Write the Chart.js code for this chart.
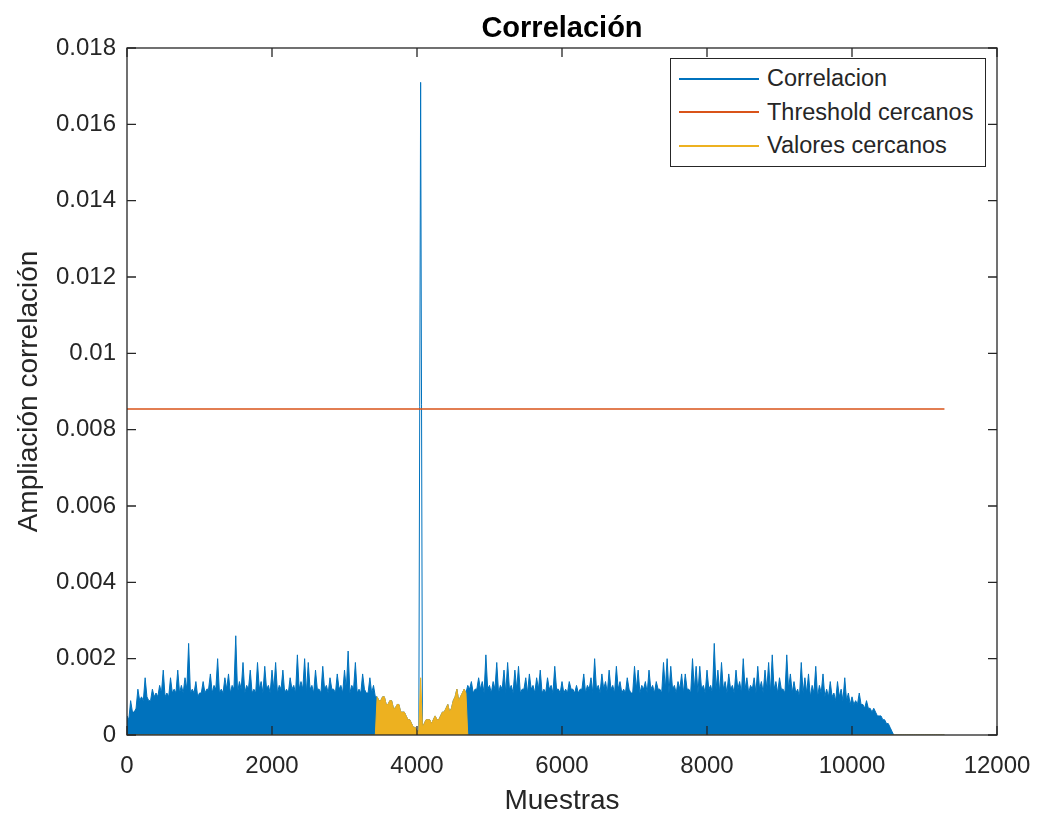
<!DOCTYPE html>
<html>
<head>
<meta charset="utf-8">
<script src="https://cdn.jsdelivr.net/npm/chart.js@4"></script>
<style>
  body { margin: 0; background: #fff; }
  #wrap { position: relative; width: 1040px; height: 820px; }
  #leyenda {
    position: absolute;
    background: #fff;
    border: 1.3px solid #262626;
    padding: 3px 12px 3px 8px;
    font-family: "Liberation Sans", Arial, sans-serif;
    font-size: 23.5px;
    color: #262626;
  }
  #leyenda .fila { display: flex; align-items: center; height: 33.5px; }
  #leyenda .linea { width: 80px; height: 2px; margin-right: 8px; }
</style>
</head>
<body>
<div id="wrap">
  <canvas id="grafica" width="1040" height="820"></canvas>
  <div id="leyenda"></div>
</div>
<script>
// valores, en unidades de 1e-4
// picos cada 50 muestras, valles a mitad de camino
const ESCALA = 1e-4;
const PASO = 25;

// muestras 0 .. 3425
const picosInicio = [5, 9, 6, 12, 10, 15, 9, 12, 11, 13, 17, 11, 15, 12, 17, 13, 15, 24, 12, 14,
  11, 14, 12, 16, 13, 20, 12, 15, 16, 13, 26, 14, 19, 13, 17, 12, 19, 14, 18, 13,
  17, 19, 13, 17, 12, 15, 13, 21, 14, 20, 19, 13, 17, 12, 18, 13, 15, 12, 16, 13,
  17, 22, 13, 19, 12, 16, 11, 15, 13];
const vallesInicio = [4, 6, 7, 9, 9, 10, 9, 10, 10, 11, 10, 10, 11, 11, 11, 11, 12, 11, 11, 10,
  11, 11, 12, 11, 12, 11, 11, 12, 11, 12, 11, 12, 11, 12, 11, 11, 12, 11, 12, 11,
  12, 11, 12, 11, 11, 12, 11, 12, 12, 11, 12, 11, 12, 11, 12, 11, 12, 11, 12, 11,
  12, 11, 12, 11, 11, 12, 11, 11, 10];

// muestras 3450 .. 4675 (ventana de valores cercanos, pico en 4050)
const picosVentana = [10, 9, 10, 8, 9, 7, 8, 6, 5, 4, 2, 1, 171, 3, 4, 3, 5, 4, 6, 7, 6, 9, 12, 10, 12];
const cercanosPicos = [10, 9, 10, 8, 9, 7, 8, 6, 5, 4, 2, 1, 15, 3, 4, 3, 5, 4, 6, 7, 6, 9, 12, 10, 12];
const vallesVentana = [9, 10, 8, 9, 7, 8, 6, 6, 4, 3, 2, 1, 2, 4, 4, 4, 4, 5, 6, 8, 7, 10, 9, 11, 11];

// muestras 4700 .. 10575
const picosFinal = [13, 14, 12, 15, 14, 21, 13, 14, 19, 13, 17, 19, 13, 17, 18, 12, 15, 16, 13, 15,
  17, 12, 15, 13, 18, 12, 14, 12, 14, 12, 13, 12, 16, 13, 15, 20, 13, 16, 14, 17,
  13, 18, 14, 12, 15, 11, 18, 17, 13, 14, 17, 13, 14, 12, 19, 20, 18, 13, 14, 16,
  16, 12, 20, 18, 18, 13, 17, 13, 24, 17, 19, 14, 16, 13, 17, 14, 20, 15, 13, 15,
  18, 14, 17, 19, 21, 14, 15, 12, 21, 16, 14, 12, 19, 15, 16, 13, 18, 13, 16, 12,
  14, 11, 14, 12, 15, 11, 10, 9, 11, 8, 9, 7, 7, 5, 5, 4, 3, 1];
const vallesFinal = [12, 11, 12, 12, 11, 12, 11, 12, 11, 12, 11, 12, 11, 12, 11, 12, 11, 12, 11, 12,
  11, 11, 12, 11, 12, 11, 11, 11, 12, 11, 11, 12, 11, 12, 11, 12, 11, 12, 11, 12,
  11, 12, 11, 11, 12, 11, 12, 11, 12, 11, 12, 11, 12, 11, 12, 11, 12, 11, 12, 11,
  12, 11, 12, 11, 12, 11, 12, 11, 12, 11, 12, 11, 12, 11, 12, 11, 12, 11, 12, 11,
  12, 11, 12, 11, 12, 11, 12, 11, 12, 11, 11, 10, 11, 11, 10, 11, 10, 11, 10, 10,
  10, 9, 10, 9, 9, 8, 8, 8, 8, 7, 7, 6, 6, 5, 4, 3, 2, 0];

// muestras 10600 .. 11275 (senal nula)
const picosCola = [0, 0, 0, 0, 0, 0, 0, 0, 0, 0, 0, 0, 0, 0];
const vallesCola = [0, 0, 0, 0, 0, 0, 0, 0, 0, 0, 0, 0, 0, 0];

const umbralCercanos = 0.00854;

const xTicks = [0, 2000, 4000, 6000, 8000, 10000, 12000];
const yTicks = [0, 0.002, 0.004, 0.006, 0.008, 0.01, 0.012, 0.014, 0.016, 0.018];

const intercalar = (picos, valles) => picos.flatMap((p, i) => [p, valles[i]]);
const anular = arr => arr.map(() => 0);

const correlacion = [
  ...intercalar(picosInicio, vallesInicio),
  ...intercalar(picosVentana, vallesVentana),
  ...intercalar(picosFinal, vallesFinal),
  ...intercalar(picosCola, vallesCola)
].map(v => v * ESCALA);
const cercanos = [
  ...anular(intercalar(picosInicio, vallesInicio)),
  ...intercalar(cercanosPicos, vallesVentana),
  ...anular(intercalar(picosFinal, vallesFinal)),
  ...intercalar(picosCola, vallesCola)
].map(v => v * ESCALA);
const muestras = correlacion.map((_, i) => i * PASO);
const iPico = correlacion.indexOf(Math.max(...correlacion));

const AZUL = '#0072BD', NARANJA = '#D95319', AMARILLO = '#EDB120', EJE = '#262626';
const FUENTE = '"Liberation Sans", Arial, sans-serif';

// caja y marcas hacia dentro, estilo MATLAB
const marcoMatlab = {
  id: 'marcoMatlab',
  afterDatasetsDraw(chart) {
    const { ctx, chartArea: a, scales: { x, y } } = chart;
    const L = 9;
    ctx.save();
    ctx.strokeStyle = EJE;
    ctx.lineWidth = 1.3;
    ctx.strokeRect(a.left, a.top, a.right - a.left, a.bottom - a.top);
    ctx.beginPath();
    xTicks.forEach(v => {
      const px = x.getPixelForValue(v);
      ctx.moveTo(px, a.bottom); ctx.lineTo(px, a.bottom - L);
      ctx.moveTo(px, a.top); ctx.lineTo(px, a.top + L);
    });
    yTicks.forEach(v => {
      const py = y.getPixelForValue(v);
      ctx.moveTo(a.left, py); ctx.lineTo(a.left + L, py);
      ctx.moveTo(a.right, py); ctx.lineTo(a.right - L, py);
    });
    ctx.stroke();
    ctx.restore();
  }
};

// leyenda html dentro del area de la grafica
const leyendaHtml = {
  id: 'leyendaHtml',
  afterRender(chart) {
    const box = document.getElementById('leyenda');
    if (!box.childElementCount) {
      chart.data.datasets.forEach(ds => {
        const fila = document.createElement('div');
        fila.className = 'fila';
        const linea = document.createElement('span');
        linea.className = 'linea';
        linea.style.background = ds.borderColor;
        const txt = document.createElement('span');
        txt.textContent = ds.label;
        fila.append(linea, txt);
        box.append(fila);
      });
    }
    const a = chart.chartArea;
    box.style.left = (a.right - 11 - box.offsetWidth) + 'px';
    box.style.top = (a.top + 10) + 'px';
  }
};

const ctx = document.getElementById('grafica').getContext('2d');

const chart = new Chart(ctx, {
  type: 'line',
  data: {
    datasets: [{
      label: 'Correlacion',
      data: muestras.map((s, i) => ({ x: s, y: correlacion[i] })),
      borderColor: AZUL,
      backgroundColor: AZUL,
      borderWidth: 1,
      fill: 'origin',
      // el pico se dibuja solo como linea
      segment: {
        backgroundColor: c => (c.p0DataIndex === iPico - 1 || c.p0DataIndex === iPico) ? 'rgba(0,0,0,0)' : AZUL
      },
      order: 3
    }, {
      label: 'Threshold cercanos',
      data: [{ x: muestras[0], y: umbralCercanos }, { x: muestras[muestras.length - 1], y: umbralCercanos }],
      borderColor: NARANJA,
      borderWidth: 1.4,
      fill: false,
      order: 2
    }, {
      label: 'Valores cercanos',
      data: muestras.map((s, i) => ({ x: s, y: cercanos[i] })),
      borderColor: AMARILLO,
      backgroundColor: AMARILLO,
      borderWidth: 1,
      fill: 'origin',
      order: 1
    }]
  },
  options: {
    responsive: false,
    animation: false,
    elements: { point: { radius: 0 }, line: { tension: 0 } },
    layout: { padding: { left: 0, right: 43, top: 0, bottom: 0 } },
    plugins: {
      legend: { display: false },
      tooltip: { enabled: false },
      title: {
        display: true,
        text: 'Correlación',
        fullSize: false,
        color: '#000',
        font: { family: FUENTE, size: 29, weight: 'bold' },
        padding: { top: 12, bottom: 1.2 }
      }
    },
    scales: {
      x: {
        type: 'linear',
        min: 0,
        max: 12000,
        afterFit: s => { s.height = 85; s.paddingLeft = 0; s.paddingRight = 0; },
        afterBuildTicks: s => { s.ticks = xTicks.map(v => ({ value: v })); },
        grid: { display: false, drawTicks: false },
        border: { display: false },
        ticks: { color: EJE, padding: 17, font: { family: FUENTE, size: 24 }, callback: v => String(v) },
        title: { display: true, text: 'Muestras', color: EJE, font: { family: FUENTE, size: 28 }, padding: { bottom: 2 } }
      },
      y: {
        min: 0,
        max: 0.018,
        afterFit: s => { s.width = 127; s.paddingTop = 0; s.paddingBottom = 0; },
        afterBuildTicks: s => { s.ticks = yTicks.map(v => ({ value: v })); },
        grid: { display: false, drawTicks: false },
        border: { display: false },
        ticks: { color: EJE, padding: 11, font: { family: FUENTE, size: 24 }, callback: v => String(+v.toFixed(3)) },
        title: { display: true, text: 'Ampliación correlación', color: EJE, font: { family: FUENTE, size: 28 }, padding: { top: 12 } }
      }
    }
  },
  plugins: [marcoMatlab, leyendaHtml]
});
</script>
</body>
</html>
